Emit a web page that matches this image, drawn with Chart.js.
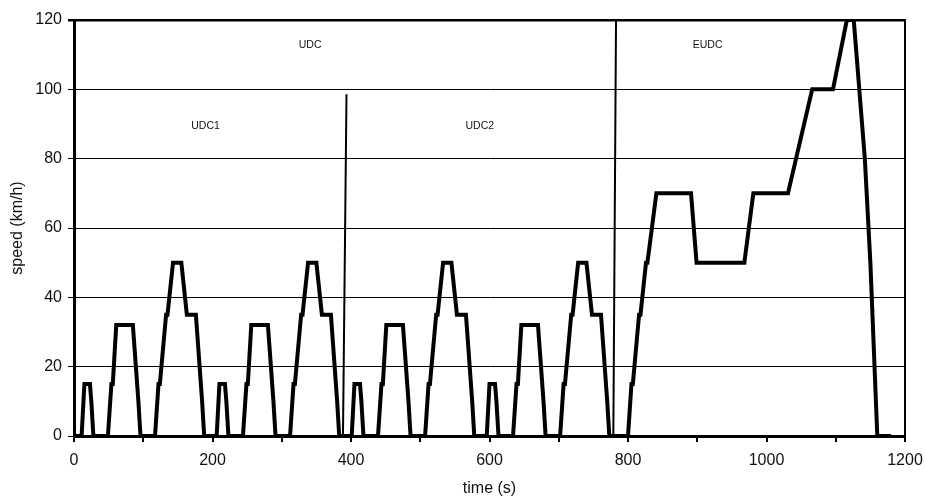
<!DOCTYPE html>
<html>
<head>
<meta charset="utf-8">
<script src="https://cdn.jsdelivr.net/npm/chart.js@4/dist/chart.umd.min.js"></script>
<style>
  html, body { margin: 0; padding: 0; background: #fff; }
  #wrap { width: 925px; height: 498px; position: relative; }
</style>
</head>
<body>
<div id="wrap"><canvas id="cycle"></canvas></div>
<script>
// NEDC speed trace: 4 x ECE-15 (UDC) followed by the EUDC
const timeS = [
    0, 11, 15, 23, 25, 28, 49, 54, 56, 61, 85, 93, 96, 117, 122, 124, 133, 135, 143, 155, 163, 176, 185, 188,
    206, 210, 218, 220, 223, 244, 249, 251, 256, 280, 288, 291, 312, 317, 319, 328, 330, 338, 350, 358, 371, 380, 383,
    401, 405, 413, 415, 418, 439, 444, 446, 451, 475, 483, 486, 507, 512, 514, 523, 525, 533, 545, 553, 566, 575, 578,
    596, 600, 608, 610, 613, 634, 639, 641, 646, 670, 678, 681, 702, 707, 709, 718, 720, 728, 740, 748, 761, 770, 773,
    800, 805, 807, 816, 818, 826, 828, 841, 891, 899, 968, 981, 1031, 1066, 1096, 1116, 1126, 1142, 1150, 1160, 1180
];
const speedKmh = [
    0, 0, 15, 15, 10, 0, 0, 15, 15, 32, 32, 10, 0, 0, 15, 15, 35, 35, 50, 50, 35, 35, 10, 0,
    0, 15, 15, 10, 0, 0, 15, 15, 32, 32, 10, 0, 0, 15, 15, 35, 35, 50, 50, 35, 35, 10, 0,
    0, 15, 15, 10, 0, 0, 15, 15, 32, 32, 10, 0, 0, 15, 15, 35, 35, 50, 50, 35, 35, 10, 0,
    0, 15, 15, 10, 0, 0, 15, 15, 32, 32, 10, 0, 0, 15, 15, 35, 35, 50, 50, 35, 35, 10, 0,
    0, 15, 15, 35, 35, 50, 50, 70, 70, 50, 50, 70, 70, 100, 100, 120, 120, 80, 50, 0, 0
];

// phase separators and labels (data units)
const phaseLines = [
    { x1: 393.5, y1: 98.6, x2: 388.4, y2: 0 },
    { x1: 782.7, y1: 120, x2: 778.8, y2: 0 }
];
const phaseNames = ['UDC', 'EUDC', 'UDC1', 'UDC2'];
const phaseNameX = [341, 915, 190, 586];
const phaseNameY = [112.8, 112.8, 89.4, 89.4];

const FONT = '"Liberation Sans", Arial, sans-serif';

const phasePlugin = {
    id: 'phases',
    afterDatasetsDraw(chart) {
        const { ctx, chartArea, scales: { x, y } } = chart;
        ctx.save();
        // right frame edge
        ctx.strokeStyle = '#000';
        ctx.lineWidth = 2;
        ctx.beginPath();
        ctx.moveTo(chartArea.right, chartArea.top - 1);
        ctx.lineTo(chartArea.right, chartArea.bottom);
        ctx.stroke();

        ctx.lineWidth = 2;
        phaseLines.forEach(l => {
            ctx.beginPath();
            ctx.moveTo(x.getPixelForValue(l.x1), y.getPixelForValue(l.y1));
            ctx.lineTo(x.getPixelForValue(l.x2), y.getPixelForValue(l.y2));
            ctx.stroke();
        });

        ctx.fillStyle = '#111';
        ctx.font = '10.5px ' + FONT;
        ctx.textAlign = 'center';
        ctx.textBaseline = 'middle';
        phaseNames.forEach((name, i) => {
            ctx.fillText(name, x.getPixelForValue(phaseNameX[i]), y.getPixelForValue(phaseNameY[i]));
        });
        ctx.restore();
    }
};

new Chart(document.getElementById('cycle'), {
    type: 'line',
    data: {
        datasets: [{
            data: timeS.map((t, i) => ({ x: t, y: speedKmh[i] })),
            borderColor: '#000',
            borderWidth: 4,
            pointRadius: 0,
            tension: 0,
            fill: false,
            clip: { left: 0, top: 0, right: 0, bottom: 4 }
        }]
    },
    options: {
        responsive: true,
        maintainAspectRatio: false,
        animation: false,
        layout: { padding: { left: 0, right: 20, top: 20, bottom: 0 } },
        plugins: { legend: { display: false }, tooltip: { enabled: false } },
        scales: {
            x: {
                type: 'linear',
                min: 0,
                max: 1200,
                afterFit: s => { s.height = 62; s.paddingLeft = 0; s.paddingRight = 0; },
                ticks: {
                    stepSize: 100,
                    autoSkip: false,
                    maxRotation: 0,
                    padding: 9,
                    color: '#111',
                    font: { family: FONT, size: 16 },
                    callback: v => (v % 200 === 0 ? v : '')
                },
                grid: { drawOnChartArea: false, drawTicks: true, tickLength: 6, color: '#000', lineWidth: 2 },
                border: { display: true, color: '#000', width: 3 },
                title: {
                    display: true,
                    text: 'time (s)',
                    color: '#111',
                    font: { family: FONT, size: 16 },
                    padding: { top: 0, bottom: 0 }
                }
            },
            y: {
                min: 0,
                max: 120,
                afterFit: s => { s.width = 74; s.paddingTop = 0; s.paddingBottom = 0; },
                ticks: {
                    stepSize: 20,
                    padding: 6,
                    color: '#111',
                    font: { family: FONT, size: 16 }
                },
                grid: {
                    color: '#000',
                    lineWidth: c => (c.tick && c.tick.value === 120 ? 2.5 : 1),
                    tickLength: 6
                },
                border: { display: true, color: '#000', width: 3 },
                title: {
                    display: true,
                    text: 'speed (km/h)',
                    color: '#111',
                    font: { family: FONT, size: 16 },
                    padding: { top: 8, bottom: 0 }
                }
            }
        }
    },
    plugins: [phasePlugin]
});
</script>
</body>
</html>
